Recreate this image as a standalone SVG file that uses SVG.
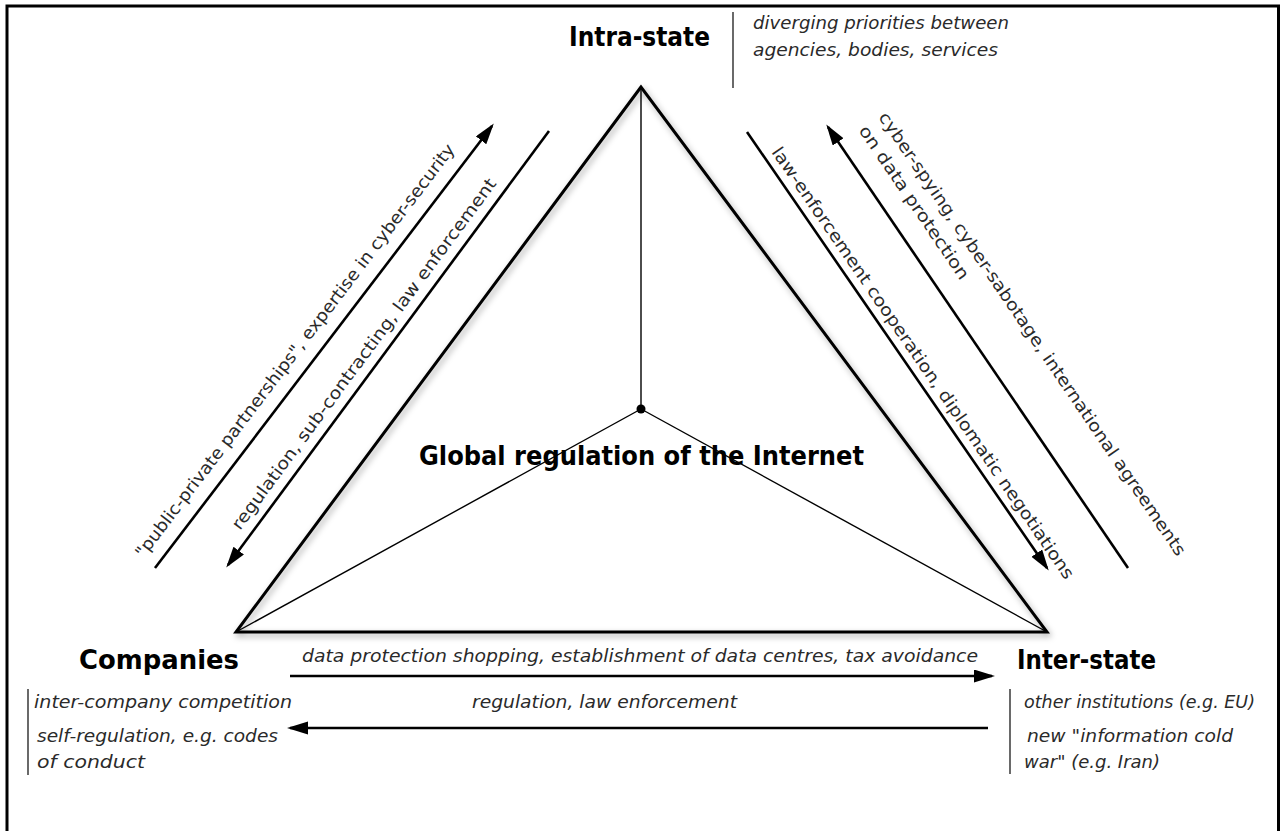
<svg xmlns="http://www.w3.org/2000/svg" width="1280" height="831" viewBox="0 0 1280 831">
  <style>
    .title { font-family: "DejaVu Sans", "Liberation Sans", sans-serif; font-weight: bold; font-size: 26px; fill: #000; }
    .note { font-family: "DejaVu Sans", "Liberation Sans", sans-serif; font-style: italic; font-size: 17px; fill: #2a2a2a; }
    .rot { font-family: "DejaVu Sans", "Liberation Sans", sans-serif; font-size: 17px; fill: #2a2a2a; }
    .arrow { stroke: #000; stroke-width: 2.6; fill: none; marker-end: url(#ah); }
    .sep { stroke: #444; stroke-width: 1.6; }
    .tri { stroke: #000; stroke-width: 3; fill: none; stroke-linejoin: miter; }
    .spoke { stroke: #000; stroke-width: 1.4; fill: none; }
  </style>
  <defs>
    <marker id="ah" markerUnits="userSpaceOnUse" markerWidth="22" markerHeight="14" refX="18" refY="6.5" orient="auto">
      <path d="M0,0 L21,6.5 L0,13 z" fill="#000"/>
    </marker>
    <filter id="shadow" x="-10%" y="-10%" width="120%" height="120%">
      <feDropShadow dx="2" dy="3" stdDeviation="3" flood-color="#000" flood-opacity="0.35"/>
    </filter>
  </defs>

  <rect x="0" y="0" width="1280" height="831" fill="#fff"/>
  <rect x="7" y="6" width="1271.5" height="860" fill="none" stroke="#000" stroke-width="3"/>

  <!-- central triangle -->
  <g id="center">
    <polygon class="tri" points="641,87 236,632 1047,632" filter="url(#shadow)"/>
    <line class="spoke" x1="641" y1="87" x2="641" y2="409"/>
    <line class="spoke" x1="641" y1="409" x2="236" y2="632"/>
    <line class="spoke" x1="641" y1="409" x2="1047" y2="632"/>
    <circle cx="641" cy="409" r="4.5" fill="#000"/>
    <text class="title" x="419" y="465" font-size="25" textLength="445" lengthAdjust="spacingAndGlyphs">Global regulation of the Internet</text>
  </g>

  <!-- nodes -->
  <g id="intra-state">
    <text class="title" x="569" y="46" textLength="141" lengthAdjust="spacingAndGlyphs">Intra-state</text>
    <line class="sep" x1="733" y1="12" x2="733" y2="88"/>
    <text class="note" x="753" y="29" textLength="256" lengthAdjust="spacingAndGlyphs">diverging priorities between</text>
    <text class="note" x="753" y="56" textLength="245" lengthAdjust="spacingAndGlyphs">agencies, bodies, services</text>
  </g>

  <g id="companies">
    <text class="title" x="79" y="669" textLength="160" lengthAdjust="spacingAndGlyphs">Companies</text>
    <line class="sep" x1="28" y1="689" x2="28" y2="775"/>
    <text class="note" x="34" y="708" textLength="258" lengthAdjust="spacingAndGlyphs">inter-company competition</text>
    <text class="note" x="37" y="742" textLength="241" lengthAdjust="spacingAndGlyphs">self-regulation, e.g. codes</text>
    <text class="note" x="37" y="768" textLength="108" lengthAdjust="spacingAndGlyphs">of conduct</text>
  </g>

  <g id="inter-state">
    <text class="title" x="1017" y="669" textLength="139" lengthAdjust="spacingAndGlyphs">Inter-state</text>
    <line class="sep" x1="1010" y1="689" x2="1010" y2="774"/>
    <text class="note" x="1024" y="708" textLength="231" lengthAdjust="spacingAndGlyphs">other institutions (e.g. EU)</text>
    <text class="note" x="1027" y="742" textLength="206" lengthAdjust="spacingAndGlyphs">new "information cold</text>
    <text class="note" x="1024" y="768" textLength="136" lengthAdjust="spacingAndGlyphs">war" (e.g. Iran)</text>
  </g>

  <!-- connectors -->
  <g id="connectors">
    <line class="arrow" x1="155" y1="568" x2="492" y2="126"/>
    <line class="arrow" x1="549" y1="131" x2="228" y2="565"/>
    <line class="arrow" x1="747" y1="132" x2="1047" y2="568"/>
    <line class="arrow" x1="1128" y1="568" x2="828" y2="127"/>
    <line class="arrow" x1="290" y1="676" x2="992" y2="676"/>
    <line class="arrow" x1="988" y1="728" x2="290" y2="728"/>
  </g>

  <g id="connector-labels">
    <text class="rot" transform="translate(143.5,559) rotate(-52.7)" textLength="515" lengthAdjust="spacingAndGlyphs">"public-private partnerships", expertise in cyber-security</text>
    <text class="rot" transform="translate(240,531) rotate(-53.5)" textLength="432" lengthAdjust="spacingAndGlyphs">regulation, sub-contracting, law enforcement</text>
    <text class="rot" transform="translate(771,152) rotate(55.5)" textLength="520" lengthAdjust="spacingAndGlyphs">law-enforcement cooperation, diplomatic negotiations</text>
    <text class="rot" transform="translate(878.1,117.1) rotate(55.8)" textLength="532" lengthAdjust="spacingAndGlyphs">cyber-spying, cyber-sabotage, international agreements</text>
    <text class="rot" transform="translate(858.3,130.6) rotate(55.8)" textLength="182" lengthAdjust="spacingAndGlyphs">on data protection</text>
    <text class="note" x="302" y="662" textLength="676" lengthAdjust="spacingAndGlyphs">data protection shopping, establishment of data centres, tax avoidance</text>
    <text class="note" x="472" y="708" textLength="265" lengthAdjust="spacingAndGlyphs">regulation, law enforcement</text>
  </g>
</svg>
